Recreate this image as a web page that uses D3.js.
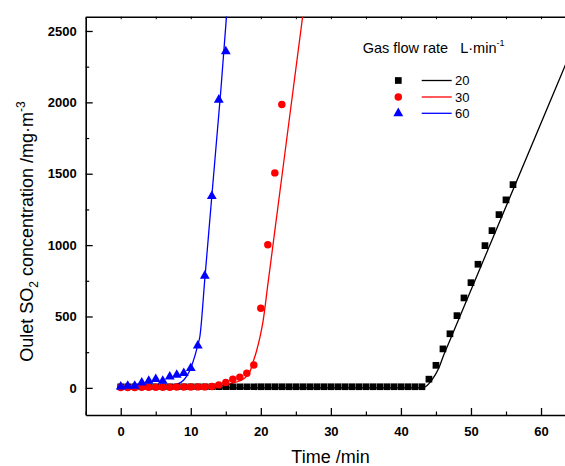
<!DOCTYPE html>
<html>
<head>
<meta charset="utf-8">
<script src="https://cdn.jsdelivr.net/npm/d3@7"></script>
<style>
  html, body { margin: 0; padding: 0; background: #fff; }
  svg { display: block; font-family: "Liberation Sans", Arial, sans-serif; }
</style>
</head>
<body>
<svg id="chart" width="565" height="466"></svg>
<script>
// ---------- data ----------
const seriesNames = ["20", "30", "60"];
const seriesColors = ["#000000", "#ff0000", "#0000ff"];

// 20 L/min : measured points (black squares)
const time20 = [0,1,2,3,4,5,6,7,8,9,10,11,12,13,14,15,16,17,18,19,20,21,22,23,24,25,26,27,28,29,
                30,31,32,33,34,35,36,37,38,39,40,41,42,43,44,45,46,47,48,49,50,51,52,53,54,55,56];
const so2_20  = [8,8,8,8,8,8,8,8,8,8,8,8,8,8,8,8,8,8,8,8,8,8,8,8,8,8,8,8,8,8,
                 8,8,8,8,8,8,8,8,8,8,8,8,8,8,61,158,273,379,506,630,737,866,996,1101,1213,1317,1424];
// 30 L/min : measured points (red circles)
const time30 = [0,1,2,3,4,5,6,7,8,9,10,11,12,13,14,15,16,17,18,19,20,21,22,23];
const so2_30  = [3,3,3,4,4,5,5,5,6,6,6,7,7,9,21,37,61,75,103,161,557,1003,1506,1985];
// 60 L/min : measured points (blue triangles)
const time60 = [0,1,2,3,4,5,6,7,8,9,10,11,12,13,14,15];
const so2_60  = [9,14,14,37,49,61,49,79,91,103,138,295,785,1343,2018,2357];

// model curves (solid lines)
const fitTime20 = [0,43,43.5,44,44.5,45,45.5,46,47,63,66];
const fitSo2_20 = [0,0,8,30,62,100,150,217,334,2206,2557];
const fitTime30 = [0,10,13,15,16,17,18,18.5,18.85,19.4,19.9,20.35,21,22,23,24,25,26];
const fitSo2_30 = [0,2,8,20,33,50,82,120,175,260,360,477,723,1101,1479,1857,2235,2613];
const fitTime60 = [0,3,5,6.5,8,9,9.9,10.5,11,11.3,12,13,14,14.3,15.1];
const fitSo2_60 = [0,2,5,9,25,55,126,210,300,360,760,1341,1917,2090,2604];

const xTicks = [0,10,20,30,40,50,60];
const xMinor = [-5,5,15,25,35,45,55,65];
const yTicks = [0,500,1000,1500,2000,2500];
const yMinor = [250,750,1250,1750,2250];

// ---------- layout ----------
const svg = d3.select("#chart");
const L = 85.7, T = 16.7, B = 415;
const x = d3.scaleLinear().domain([-5, 65]).range([L, L + 70 * 7.005]);
const y = d3.scaleLinear().domain([-190, 2600]).range([B, T]);

svg.append("defs").append("clipPath").attr("id", "plotclip")
  .append("rect").attr("x", L).attr("y", T).attr("width", 565 - L).attr("height", B - T);

// ---------- axes ----------
const fmt = d3.format("d");
const tickFont = g => g.selectAll("text")
  .attr("font-family", "'Liberation Sans', Arial, sans-serif")
  .attr("font-size", 13).attr("font-weight", "bold").attr("fill", "#000");

const xAxis = svg.append("g").attr("transform", `translate(0,${B})`)
  .call(d3.axisBottom(x).tickValues(xTicks).tickFormat(fmt).tickSizeInner(-7).tickSizeOuter(0).tickPadding(12))
  .call(tickFont);
xAxis.select(".domain").attr("stroke-width", 1.6);
xAxis.selectAll(".tick line").attr("stroke-width", 1.3);

svg.append("g").attr("transform", `translate(0,${B})`)
  .call(d3.axisBottom(x).tickValues(xMinor).tickSizeInner(-3.5).tickSizeOuter(0).tickFormat(""))
  .call(g => g.select(".domain").remove())
  .selectAll(".tick line").attr("stroke-width", 1.2);

const yAxis = svg.append("g").attr("transform", `translate(${L},0)`)
  .call(d3.axisLeft(y).tickValues(yTicks).tickFormat(fmt).tickSizeInner(-7).tickSizeOuter(0).tickPadding(9))
  .call(tickFont);
yAxis.select(".domain").attr("stroke-width", 1.6);
yAxis.selectAll(".tick line").attr("stroke-width", 1.3);

svg.append("g").attr("transform", `translate(${L},0)`)
  .call(d3.axisLeft(y).tickValues(yMinor).tickSizeInner(-3.5).tickSizeOuter(0).tickFormat(""))
  .call(g => g.select(".domain").remove())
  .selectAll(".tick line").attr("stroke-width", 1.2);

// top frame line with tiny ticks
const topAxis = svg.append("g").attr("transform", `translate(0,${T})`)
  .call(d3.axisTop(x).tickValues(xTicks.concat(xMinor)).tickSizeInner(-2.5).tickSizeOuter(0).tickFormat(""));
topAxis.select(".domain").attr("stroke-width", 1.6);
topAxis.selectAll(".tick line").attr("stroke-width", 1);

// ---------- axis titles ----------
svg.append("text").attr("x", 330.5).attr("y", 463)
  .attr("text-anchor", "middle").attr("font-size", 18).text("Time /min");

const yt = svg.append("text")
  .attr("transform", "translate(33,231.5) rotate(-90)")
  .attr("text-anchor", "middle").attr("font-size", 18);
yt.append("tspan").text("Oulet SO");
yt.append("tspan").attr("font-size", 12).attr("dy", 5).text("2");
yt.append("tspan").attr("dy", -5).text(" concentration /mg\u00B7m");
yt.append("tspan").attr("font-size", 12).attr("dy", -8).text("-3");

// ---------- plot ----------
const plot = svg.append("g").attr("clip-path", "url(#plotclip)");
const line = d3.line().x(d => x(d[0])).y(d => y(d[1])).curve(d3.curveMonotoneX);

const fits = [
  d3.zip(fitTime20, fitSo2_20),
  d3.zip(fitTime30, fitSo2_30),
  d3.zip(fitTime60, fitSo2_60)
];
const pts = [
  d3.zip(time20, so2_20),
  d3.zip(time30, so2_30),
  d3.zip(time60, so2_60)
];
const symbols = [d3.symbolSquare, d3.symbolCircle, d3.symbolTriangle];
const symSizes = [45, 44, 42];

fits.forEach((f, i) => {
  plot.append("path").datum(f).attr("d", line)
    .attr("fill", "none").attr("stroke", seriesColors[i]).attr("stroke-width", 1.3);
});
pts.forEach((p, i) => {
  plot.append("g").selectAll("path").data(p).join("path")
    .attr("transform", d => `translate(${x(d[0])},${y(d[1])})`)
    .attr("d", d3.symbol().type(symbols[i]).size(symSizes[i]))
    .attr("fill", seriesColors[i]);
});

// ---------- legend ----------
const lg = svg.append("g");
const lt = lg.append("text").attr("x", 362.7).attr("y", 52.5).attr("font-size", 14.5);
lt.append("tspan").text("Gas flow rate\u00A0\u00A0\u00A0L\u00B7min");
lt.append("tspan").attr("font-size", 9).attr("dy", -7).text("-1");

const rowY = [80.5, 97, 113.3];
seriesNames.forEach((name, i) => {
  lg.append("path")
    .attr("transform", `translate(398.3,${rowY[i]})`)
    .attr("d", d3.symbol().type(symbols[i]).size(symSizes[i]))
    .attr("fill", seriesColors[i]);
  lg.append("line").attr("x1", 421.7).attr("x2", 451.7)
    .attr("y1", rowY[i]).attr("y2", rowY[i])
    .attr("stroke", seriesColors[i]).attr("stroke-width", 1.3);
  lg.append("text").attr("x", 455).attr("y", rowY[i] + 4.7)
    .attr("font-size", 13).text(name);
});
</script>
</body>
</html>
